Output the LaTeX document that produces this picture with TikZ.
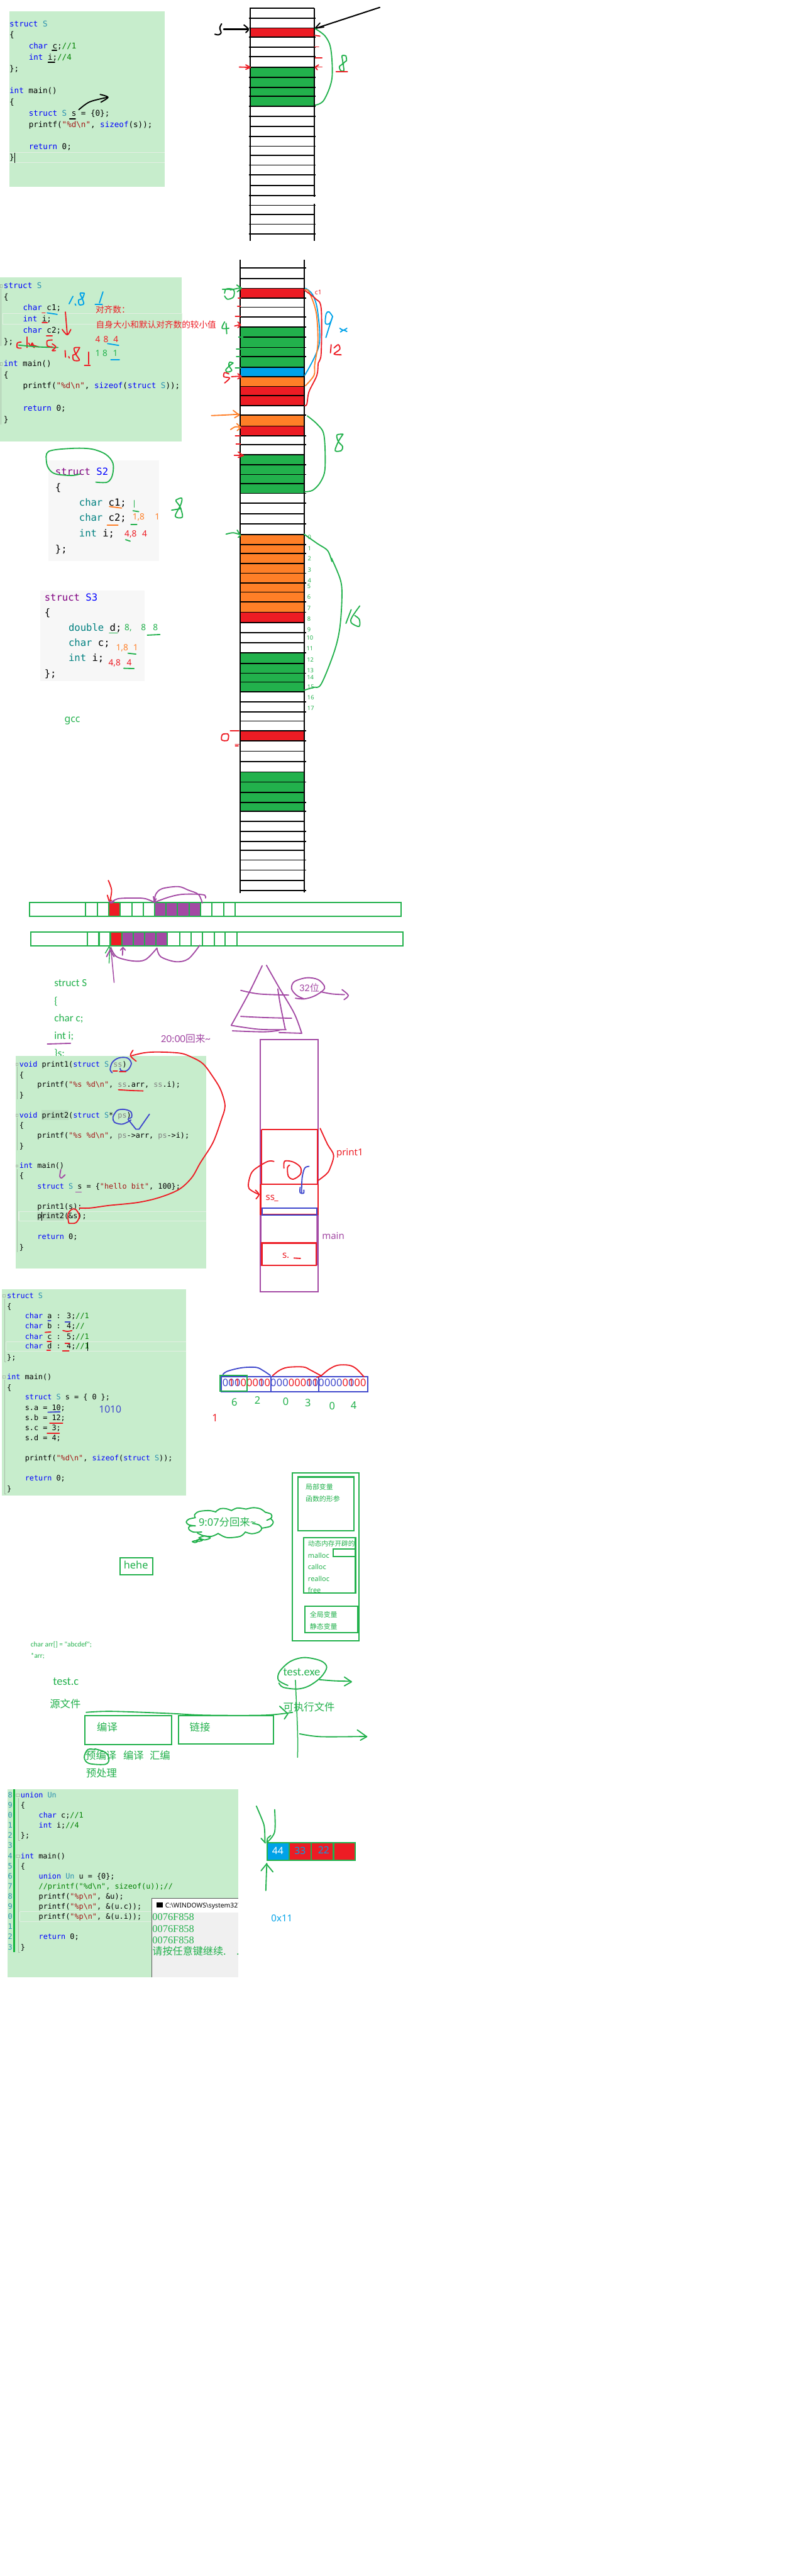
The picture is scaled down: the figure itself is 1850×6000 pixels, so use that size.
\documentclass[tikz,border=0pt]{standalone}
\usepackage{fontspec}
\setmainfont{Noto Sans}
\newfontfamily\mono{DejaVu Sans Mono}
\newfontfamily\carl{Carlito}
\newfontfamily\cjk{Noto Sans CJK SC}
\newfontfamily\serf{Liberation Serif}
\definecolor{mred}{HTML}{ED1C24}
\definecolor{mgreen}{HTML}{22B14C}
\definecolor{mblue}{HTML}{00A2E8}
\definecolor{morange}{HTML}{FF7F27}
\definecolor{mpurple}{HTML}{A349A4}
\definecolor{mindigo}{HTML}{3F48CC}
\definecolor{panelbg}{HTML}{C7EDCC}
\definecolor{ckwc}{HTML}{0000FF}
\definecolor{ctyc}{HTML}{2B91AF}
\definecolor{cstrc}{HTML}{A31515}
\definecolor{cccc}{HTML}{008000}
\definecolor{cpac}{HTML}{808080}
\definecolor{cpur}{HTML}{800080}
\definecolor{cteal}{HTML}{008080}
\definecolor{hl}{HTML}{E3EFE3}
\definecolor{gutter}{HTML}{A9BDA9}
\definecolor{gbar}{HTML}{11B63C}
\definecolor{consbg}{HTML}{F0F0F0}
\newcommand{\ckw}[1]{\textcolor{ckwc}{#1}}
\newcommand{\cty}[1]{\textcolor{ctyc}{#1}}
\newcommand{\cstr}[1]{\textcolor{cstrc}{#1}}
\newcommand{\ccm}[1]{\textcolor{cccc}{#1}}
\newcommand{\cpa}[1]{\textcolor{cpac}{#1}}
\newcommand{\cpu}[1]{\textcolor{cpur}{#1}}
\newcommand{\cte}[1]{\textcolor{cteal}{#1}}
\newcount\txtc
\newcommand{\lbl}[4][]{\global\advance\txtc by 1 \node[lab,#1] (t\the\txtc) at (#2,#3) {#4};}
\newcommand{\ink}[2][]{\draw[inkk,#1] plot[smooth,tension=.55] coordinates {#2};}
\newcommand{\bitb}[1]{\lbl[mindigo,font=\fontsize{12}{14}\selectfont,anchor=center]{#1}{165}{0}}
\newcommand{\bitr}[1]{\lbl[mred,font=\fontsize{12}{14}\selectfont,anchor=center]{#1}{165}{0}}
\newcommand{\bito}[1]{\lbl[mindigo,font=\fontsize{12}{14}\selectfont,anchor=center]{#1}{165}{0}\lbl[mred,font=\fontsize{12}{14}\selectfont,anchor=center]{#1}{165}{1}}
\tikzset{
  lab/.style={inner sep=0pt,anchor=west,text height=7pt,text depth=1pt},
  inkk/.style={line width=1.35pt,line cap=round,line join=round},
  cA/.style={font=\mono\fontsize{9.2}{11}\selectfont},
  cS/.style={font=\mono\fontsize{11.4}{13}\selectfont},
  cB/.style={font=\mono\fontsize{8.65}{10}\selectfont},
  hw/.style={font=\carl\fontsize{12.5}{14}\selectfont,mgreen},
  cj/.style={font=\cjk\fontsize{12}{14}\selectfont,mgreen},
  sm/.style={font=\fontsize{10}{12}\selectfont},
  zA/.style={shift={(0,0)},xscale=.60606,yscale=.38265},
  zB/.style={shift={(0,620)},xscale=.33333,yscale=.70153},
  zC/.style={shift={(480,600)},xscale=.33333,yscale=.63776},
  zD/.style={shift={(480,1300)},xscale=.33333,yscale=.51020},
  zE/.style={shift={(40,2040)},xscale=.58673,yscale=.33333},
  zF/.style={shift={(20,2440)},xscale=.33333,yscale=.34439},
  zG/.style={shift={(500,2380)},xscale=.33333,yscale=.40816},
  zH/.style={shift={(0,3000)},xscale=.33333,yscale=.33333},
  zI/.style={shift={(480,3150)},xscale=.33333,yscale=.44643},
  zJ/.style={shift={(40,3780)},xscale=.54847,yscale=.33333},
  zK/.style={shift={(0,4150)},xscale=.38265,yscale=.33333},
  zL/.style={shift={(560,4150)},xscale=.33333,yscale=.33333},
  zM/.style={shift={(260,3480)},xscale=.33333,yscale=.33333},
}
\begin{document}
\begin{tikzpicture}[x=.5pt,y=-.5pt]
\useasboundingbox (0,0) rectangle (1850,6000);
\fill[white] (0,0) rectangle (1850,6000);

% ===== top panel =====
\begin{scope}[zA]
\fill[panelbg] (36,68) rectangle (634,1136);
\draw[hl,line width=.8pt] (36,929) -- (634,929) (36,991) -- (634,991);
\draw[black,line width=.4pt] (56,930) -- (56,990);
\lbl[cA]{36}{146}{\ckw{struct} \cty{S}}
\lbl[cA]{36}{214}{\{}
\lbl[cA]{110}{282}{\ckw{char} c;\ccm{//1}}
\lbl[cA]{110}{350}{\ckw{int} i;\ccm{//4}}
\lbl[cA]{36}{418}{\};}
\lbl[cA]{36}{554}{\ckw{int} main()}
\lbl[cA]{36}{622}{\{}
\lbl[cA]{110}{690}{\ckw{struct} \cty{S} s = \{0\};}
\lbl[cA]{110}{758}{printf(\cstr{"\%d\textbackslash n"}, \ckw{sizeof}(s));}
\lbl[cA]{110}{892}{\ckw{return} 0;}
\lbl[cA]{36}{960}{\}}
\ink[black]{(200,305) (218,305)}
\ink[black]{(185,378) (210,378)}
\ink[black]{(268,722) (290,722)}
\ink[black]{(303,668) (345,620) (415,592)}
\ink[black]{(385,575) (415,592) (388,622)}
% ladder 1
\fill[mred] (962,171) rectangle (1208,226);
\fill[mgreen] (962,411) rectangle (1208,647);
\foreach \yy in {110,170,226,286,346,411,471,531,587,647,707,830,890,1005,1065,1190,1250,1365,1425}
  {\draw[black,line width=1.3pt] (958,\yy) -- (1214,\yy);}
\foreach \yy in {770,945,1130,1305}
  {\draw[black,line width=1.3pt] (962,\yy) -- (1208,\yy);}
\draw[black,line width=1.5pt] (960,50) -- (1208,50);
\draw[black,line width=1.3pt] (962,50) -- (962,1468);
\draw[black,line width=1.3pt] (1208,50) -- (1208,1200) (1208,1240) -- (1208,1468);
\ink[black,line width=1.5pt]{(852,145) (845,170) (850,200) (840,212) (826,208)}
\ink[black,line width=1.5pt]{(860,178) (955,178)}
\ink[black,line width=1.5pt]{(938,152) (955,178) (945,198)}
\ink[black,line width=1.5pt]{(1460,45) (1215,172)}
\draw[inkk,black] (1230,140) -- (1212,172) -- (1245,165);
\ink[mgreen]{(1212,175) (1250,220) (1272,300) (1276,480) (1245,610) (1212,640)}
\ink[mgreen]{(1330,340) (1315,340) (1318,385) (1305,405) (1310,430) (1322,430) (1320,385) (1332,370) (1330,340)}
\ink[mred]{(1292,438) (1336,438)}
\ink[mred]{(1210,215) (1230,220)}
\ink[mred]{(1210,285) (1225,285)}
\ink[mred]{(1212,353) (1238,353)}
\ink[mred]{(1238,408) (1212,408)}
\draw[inkk,mred] (1225,395) -- (1212,408) -- (1220,425);
\ink[mred]{(920,408) (962,410)}
\draw[inkk,mred] (945,395) -- (962,410) -- (945,422);
\end{scope}

% ===== second panel =====
\begin{scope}[zB]
\fill[panelbg] (0,37) rectangle (1272,582);
\draw[hl,line width=.8pt] (20,158) rectangle (1272,193);
\draw[gutter,line width=.5pt] (6,75) -- (6,265) (6,335) -- (6,525);
\foreach \yy in {65,325}{\draw[gutter,line width=.4pt] (0,\yy-5) rectangle (15,\yy+5);}
\lbl[cA]{25}{64}{\ckw{struct} \cty{S}}
\lbl[cA]{25}{102}{\{}
\lbl[cA]{160}{139}{\ckw{char} c1;}
\lbl[cA]{160}{176}{\ckw{int} i;}
\lbl[cA]{160}{213}{\ckw{char} c2;}
\lbl[cA]{25}{250}{\};}
\lbl[cA]{25}{324}{\ckw{int} main()}
\lbl[cA]{25}{362}{\{}
\lbl[cA]{160}{398}{printf(\cstr{"\%d\textbackslash n"}, \ckw{sizeof}(\ckw{struct} \cty{S}));}
\lbl[cA]{160}{472}{\ckw{return} 0;}
\lbl[cA]{25}{510}{\}}
\lbl[mred,font=\cjk\fontsize{10}{12}\selectfont]{667}{147}{对齐数：}
\lbl[mred,font=\cjk\fontsize{10}{12}\selectfont]{670}{197}{自身大小和默认对齐数的较小值}
\lbl[mred,sm]{665}{245}{4}\lbl[mred,sm]{722}{245}{8}\lbl[mred,sm]{792}{245}{4}
\lbl[mgreen,sm]{665}{290}{1}\lbl[mgreen,sm]{716}{290}{8}\lbl[mgreen,sm]{788}{290}{1}
\ink[mblue]{(483,125) (510,100)}
\ink[mblue]{(525,125) (530,130)}
\ink[mblue]{(590,90) (560,90) (575,108) (585,125) (555,128) (550,112) (575,108) (590,90)}
\ink[mblue]{(720,85) (695,122)}
\ink[mblue]{(665,127) (715,127)}
\ink[mred]{(457,152) (470,225)}
\ink[mred]{(435,210) (470,228) (495,210)}
\ink[mblue]{(330,155) (400,160)}
\ink[mred]{(295,155) (315,155)}
\ink[mred]{(295,188) (330,188)}
\ink[mred]{(148,252) (122,255) (120,270) (148,272)}
\ink[mred]{(190,235) (190,270)}
\ink[mred]{(200,255) (215,265) (225,255) (240,270) (225,262) (270,268)}
\ink[mgreen]{(130,262) (270,268) (405,270)}
\ink[mred]{(325,232) (365,232)}
\ink[mred]{(365,245) (330,248) (332,265) (365,268)}
\ink[mred]{(365,258) (390,268) (365,280) (388,280)}
\ink[mred]{(455,280) (458,302)}
\ink[mred]{(480,300) (485,305)}
\ink[mred]{(557,270) (518,272) (530,292) (555,312) (515,312) (510,295) (530,292) (557,270)}
\ink[mred]{(620,285) (620,325)}
\ink[mred]{(590,330) (630,330)}
\ink[mblue]{(752,257) (830,263)}
\ink[mblue]{(775,310) (835,310)}
% S2
\fill[black!3] (340,645) rectangle (1110,978);
\lbl[cS]{385}{685}{\cpu{struct} \ckw{S2}}
\lbl[cS]{385}{738}{\{}
\lbl[cS]{552}{788}{\cte{char} c1;}
\lbl[cS]{552}{838}{\cte{char} c2;}
\lbl[cS]{552}{890}{\cte{int} i;}
\lbl[cS]{385}{942}{\};}
\lbl[morange,sm]{925}{833}{1,8}\lbl[morange,sm]{1082}{833}{1}
\lbl[mred,sm]{870}{890}{4,8}\lbl[mred,sm]{993}{890}{4}
\ink[mgreen]{(670,717) (750,717) (785,695) (790,655) (740,625) (640,607) (500,605) (340,615) (325,650) (345,675) (390,690) (500,695) (560,690)}
\ink[morange]{(765,798) (850,803)}
\ink[mgreen]{(938,778) (938,800)}
\ink[mgreen]{(930,812) (970,815)}
\ink[morange]{(750,860) (825,860)}
\ink[mgreen]{(915,857) (957,857)}
\ink[mgreen]{(878,908) (910,913)}
\ink[mgreen]{(1235,775) (1270,770) (1265,790) (1225,830) (1275,833) (1260,800) (1230,780) (1235,775)}
\ink[mgreen]{(1200,810) (1265,805)}
% S3
\fill[black!3] (282,1077) rectangle (1010,1378);
\lbl[cS]{310}{1102}{\cpu{struct} \ckw{S3}}
\lbl[cS]{310}{1152}{\{}
\lbl[cS]{478}{1203}{\cte{double} d;}
\lbl[cS]{478}{1253}{\cte{char} c;}
\lbl[cS]{478}{1303}{\cte{int} i;}
\lbl[cS]{310}{1355}{\};}
\lbl[mgreen,sm]{870}{1200}{8,}\lbl[mgreen,sm]{985}{1200}{8}\lbl[mgreen,sm]{1068}{1200}{8}
\lbl[morange,sm]{810}{1268}{1,8}\lbl[morange,sm]{930}{1268}{1}
\lbl[mred,sm]{757}{1318}{4,8}\lbl[mred,sm]{885}{1318}{4}
\ink[mgreen]{(1030,1225) (1118,1223)}
\ink[mgreen]{(765,1218) (820,1218)}
\ink[mgreen]{(895,1285) (950,1288)}
\ink[mgreen]{(865,1335) (937,1336)}
\lbl[mgreen,font=\fontsize{11.5}{13}\selectfont]{450}{1505}{gcc}
\end{scope}

% ===== ladder 2 =====
\fill[mred] (560,671.4) rectangle (709,694.4);
\fill[mgreen] (560,761.4) rectangle (709,855.1);
\fill[mblue] (560,855.1) rectangle (709,877.4);
\fill[morange] (560,877.4) rectangle (709,900.4);
\fill[mred] (560,900.4) rectangle (709,944.4);
\fill[morange] (560,967.3) rectangle (709,992.2);
\fill[mred] (560,992.2) rectangle (709,1015.2);
\fill[mgreen] (560,1059.2) rectangle (709,1149.1);
\fill[morange] (560,1244.8) rectangle (709,1425);
\fill[mred] (560,1425) rectangle (709,1450.5);
\fill[mgreen] (560,1520) rectangle (709,1611.7);
\fill[mred] (560,1702.6) rectangle (709,1725);
\fill[mgreen] (560,1798) rectangle (709,1889.3);
\foreach \yy in {624.2,694.4,738.4,761.4,785.6,809.2,830.2,944.4,967.3,1015.2,1035.6,1082.1,1105.1,1149.1,1172.1,1219.9,1268.4,1288.8,1335.3,1358.3,1402.3,1425.9,1473.1,1520.3,1568.1,1635.2,1658.7,1702.6,1725,1773.5,1821.4,1868.9,1889.3,1936.2,1959.7,2003,2026.5,2074.5}
  {\draw[black,line width=1.3pt] (558,\yy) -- (714,\yy);}
\foreach \yy in {648.5,671.4,715.4,855.1,877.4,900.4,921.4,992.2,1059.2,1126.1,1196.9,1244.8,1312.4,1379.3,1450.1,1497.3,1545.2,1588.5,1611.7,1679.6,1750,1798,1845.9,1912.8,1980,2051}
  {\draw[black,line width=1.2pt] (560,\yy) -- (709,\yy);}
\draw[black,line width=1.5pt] (560,605) -- (560,2080);
\draw[black,line width=1.5pt] (709,605) -- (709,2078);
\foreach \nn/\yy/\xx in {0/1250/721,1/1276/721,2/1300/721,3/1326/721,4/1351/721,5/1364/720,6/1389.5/720,7/1415/720,8/1440/720,9/1465/720,10/1484.5/722,11/1510/722,12/1535/723,13/1560/723,14/1577/723,15/1598.5/724,16/1623/724,17/1648/724}
  {\lbl[mgreen,font=\fontsize{6.8}{8}\selectfont,anchor=center]{\xx}{\yy}{\nn}}

\begin{scope}[zC]
\ink[mgreen]{(115,115) (170,115)}
\ink[mgreen]{(130,130) (140,115) (185,115) (198,125) (190,145) (150,152) (130,140)}
\ink[mgreen]{(170,118) (245,110)}
\draw[inkk,mgreen] (215,100) -- (248,112) -- (218,125);
\ink[mred]{(225,148) (243,148)}
\ink[mred]{(220,178) (240,178)}
\ink[mred]{(205,214) (240,214)}
\ink[mred]{(200,250) (240,245)}
\draw[inkk,mred] (222,235) -- (242,246) -- (222,256);
\ink[mgreen]{(130,235) (112,258) (160,258)}
\ink[mgreen]{(140,240) (145,278)}
\ink[mgreen]{(228,291) (258,291)}
\ink[mgreen]{(213,333) (243,333)}
\ink[mgreen]{(213,362) (243,362)}
\ink[mgreen]{(205,402) (243,402)}
\ink[mgreen]{(190,385) (165,382) (160,395) (180,412) (150,418) (138,410) (165,395) (190,385)}
\ink[mred]{(160,425) (130,420) (125,435) (165,440) (130,458)}
\ink[mred]{(178,435) (245,433)}
\draw[inkk,mred] (222,424) -- (247,434) -- (222,443);
\ink[morange]{(38,577) (130,575) (230,572)}
\draw[inkk,morange] (190,558) -- (232,575) -- (200,585);
\ink[morange]{(172,628) (205,618) (240,620)}
\draw[inkk,morange] (215,606) -- (242,620) -- (218,632);
\ink[mred]{(205,650) (240,650)}
\ink[mred]{(210,680) (240,680)}
\ink[mred]{(197,722) (262,722)}
\draw[inkk,mred] (225,710) -- (260,723) -- (225,730);
\ink[mgreen]{(140,1010) (190,1005) (240,1012)}
\draw[inkk,mgreen] (218,995) -- (240,1015) -- (225,1022);
\ink[mblue]{(695,112) (745,135) (780,195) (790,320) (690,430)}
\ink[morange]{(690,118) (720,125) (770,200) (782,310) (760,390) (755,430) (695,468)}
\ink[mred]{(690,120) (765,150) (805,185) (805,350) (785,385) (775,430) (720,490) (705,535) (690,540)}
\lbl[mred,font=\fontsize{7.5}{9}\selectfont]{760}{127}{c1}
\ink[mblue]{(885,215) (860,198) (840,205) (835,240) (865,240) (885,215) (860,255) (838,292)}
\ink[mblue]{(935,258) (960,265) (985,258)}
\ink[mblue]{(940,272) (960,265) (985,270)}
\ink[mred]{(875,318) (870,348)}
\ink[mred]{(895,330) (925,318) (935,335) (895,352) (945,355)}
\ink[mgreen]{(708,578) (780,610) (825,650) (832,770) (800,820) (745,850) (690,855)}
\ink[mgreen]{(958,645) (915,648) (925,672) (955,690) (945,705) (903,705) (925,672) (958,645)}
\ink[mgreen]{(685,1010) (780,1045) (850,1070) (880,1110)}
\end{scope}
\begin{scope}[zD]
\ink[mgreen]{(877,0) (940,100) (950,180) (935,320) (895,430) (805,575) (750,590) (685,603)}
\ink[mgreen]{(978,298) (1015,235)}
\ink[mgreen]{(1075,218) (1020,270) (1015,295) (1070,312) (1072,280) (1040,262)}
\ink[mred]{(150,802) (115,805) (110,830) (150,832) (158,810) (150,802)}
\ink[mred]{(170,787) (230,787)}
\ink[mred]{(205,850) (230,850)}
\ink[mred]{(205,858) (225,858)}
\end{scope}

% ===== memory strips + sketches =====
\begin{scope}[zE]
\fill[mred] (363,184) rectangle (408,284);
\fill[mpurple] (545,184) rectangle (728,284);
\draw[mgreen,line width=1.5pt] (48,184) rectangle (1525,284);
\foreach \xx in {272,318,363,408,455,500,545,590,637,683,728,773,820,865}
  {\draw[mgreen,line width=1.5pt] (\xx,184) -- (\xx,284);}
\fill[mred] (370,392) rectangle (415,490);
\fill[mpurple] (415,392) rectangle (597,490);
\draw[mgreen,line width=1.5pt] (55,392) rectangle (1532,490);
\foreach \xx in {278,325,370,415,460,507,552,597,645,690,736,782,826,872}
  {\draw[mgreen,line width=1.5pt] (\xx,392) -- (\xx,490);}
\ink[mred]{(362,32) (375,100) (368,180)}
\draw[inkk,mred] (358,135) -- (366,180) -- (375,170);
\ink[mpurple]{(370,190) (400,160) (470,155) (510,160) (545,185)}
\draw[inkk,mpurple] (365,175) -- (375,190) -- (385,178);
\draw[inkk,mpurple] (541,145) -- (545,185) -- (552,160);
\ink[mpurple]{(545,185) (600,150) (650,130) (710,128) (745,135) (748,155)}
\ink[mpurple]{(545,185) (550,130) (575,90) (640,75) (680,100) (720,130) (735,190)}
\ink[mgreen,line width=1pt]{(365,610) (368,500)}
\draw[inkk,mgreen,line width=1pt] (350,540) -- (365,495) -- (390,560);
\ink[mpurple,line width=1.1pt]{(385,745) (372,500)}
\draw[inkk,mpurple] (355,565) -- (368,520) -- (385,565);
\ink[mpurple]{(418,555) (420,500)}
\draw[inkk,mpurple] (410,520) -- (420,500) -- (430,520);
\ink[mpurple]{(372,500) (395,565) (460,595) (510,585) (555,505)}
\ink[mpurple]{(555,505) (570,565) (630,600) (680,580) (725,485)}
% sail sketch
\ink[mpurple]{(973,628) (920,820) (850,1045)}
\ink[mpurple]{(990,625) (1040,780) (1100,960) (1130,1100)}
\draw[inkk,mpurple] (1040,1095) -- (1130,1100);
\ink[mpurple]{(1035,790) (1045,900) (1065,1075)}
\ink[mpurple]{(850,1045) (960,1072) (1068,1075)}
\ink[mpurple]{(855,1083) (980,1090) (1040,1080)}
\ink[mpurple]{(888,800) (960,825) (1078,833)}
\ink[mpurple]{(888,982) (980,990) (1090,995)}
\lbl[mpurple,font=\carl\fontsize{12}{14}\selectfont]{1120}{790}{32{\cjk\fontsize{11}{13}\selectfont 位}}
\ink[mpurple]{(1105,855) (1140,860) (1180,840) (1215,800) (1220,770) (1195,725) (1150,712) (1100,740) (1090,790) (1110,835) (1140,860)}
\ink[mpurple]{(1205,810) (1250,825) (1300,830)}
\ink[mpurple]{(1290,795) (1315,835) (1298,865)}
% handwritten struct
\lbl[hw]{147}{755}{struct S}
\lbl[hw]{147}{880}{\{}
\lbl[hw]{147}{1000}{char c;}
\lbl[hw]{147}{1125}{int i;}
\lbl[hw]{147}{1245}{\}s;}
\ink[mpurple]{(120,1175) (212,1170)}
\lbl[mpurple,font=\carl\fontsize{12.5}{14}\selectfont]{570}{1145}{20:00{\cjk\fontsize{11.5}{13}\selectfont 回来}\textasciitilde}
\end{scope}

% ===== print panel =====
\begin{scope}[zF]
\fill[panelbg] (51,55) rectangle (1383,1495);
\fill[black!6!panelbg] (232,422) rectangle (420,490);
\fill[black!6!panelbg] (200,1110) rectangle (390,1170);
\draw[hl,line width=.8pt] (72,1108) -- (1383,1108) (72,1172) -- (1383,1172) (72,1108) -- (72,1172);
\draw[gutter,line width=.5pt] (60,130) -- (60,350) (60,475) -- (60,695) (60,820) -- (60,1385);
\foreach \yy in {112,456,800}{\draw[gutter,line width=.4pt] (52,\yy-8) rectangle (66,\yy+8);}
\lbl[cB]{75}{112}{\ckw{void} print1(\ckw{struct} \cty{S} \cpa{ss})}
\lbl[cB]{75}{185}{\{}
\lbl[cB]{200}{250}{printf(\cstr{"\%s \%d\textbackslash n"}, \cpa{ss}.arr, \cpa{ss}.i);}
\lbl[cB]{75}{320}{\}}
\lbl[cB]{75}{456}{\ckw{void} print2(\ckw{struct} \cty{S}* \cpa{ps})}
\lbl[cB]{75}{525}{\{}
\lbl[cB]{200}{593}{printf(\cstr{"\%s \%d\textbackslash n"}, \cpa{ps}->arr, \cpa{ps}->i);}
\lbl[cB]{75}{665}{\}}
\lbl[cB]{75}{800}{\ckw{int} main()}
\lbl[cB]{75}{868}{\{}
\lbl[cB]{200}{937}{\ckw{struct} \cty{S} s = \{\cstr{"hello bit"}, 100\};}
\lbl[cB]{200}{1073}{print1(s);}
\lbl[cB]{200}{1140}{print2(\&s);}
\lbl[cB]{200}{1278}{\ckw{return} 0;}
\lbl[cB]{75}{1350}{\}}
\draw[black,line width=.4pt] (232,1112) -- (232,1170);
\ink[mred]{(495,1085) (570,1085) (700,1068) (900,1048) (1050,1015) (1190,960) (1280,880) (1340,780) (1430,640) (1490,480) (1510,420) (1510,370) (1480,280) (1430,200) (1360,110) (1280,65) (1200,38) (1050,30) (950,35) (860,55)}
\ink[mred]{(870,18) (852,55) (892,92)}
\ink[mindigo]{(725,170) (710,150) (725,100) (770,70) (830,70) (858,105) (840,145) (815,160) (785,155) (780,140)}
\ink[mred]{(730,158) (760,158)}
\ink[mred]{(775,163) (820,163)}
\ink[mred]{(768,285) (850,290) (940,293)}
\ink[mindigo]{(838,480) (860,470) (855,435) (810,418) (760,425) (730,470) (740,505) (790,518) (830,505) (855,490)}
\draw[inkk,mindigo] (835,485) -- (890,552) -- (912,552) -- (985,450);
\ink[mpurple]{(365,825) (358,870) (370,882) (395,860)}
\ink[mpurple]{(470,977) (508,977)}
\ink[mred]{(420,1185) (415,1130) (440,1095) (470,1095) (495,1140) (470,1185) (420,1188)}
\end{scope}

% ===== stack box =====
\begin{scope}[zG]
\fill[mpurple] (318,1100) rectangle (328,1390) (712,1100) rectangle (722,1390);
\draw[mpurple,line width=1.5pt] (318,100) rectangle (722,1542);
\draw[mred,line width=1.5pt] (328,613) -- (720,613) -- (720,928);
\draw[mred,line width=2pt] (328,613) -- (328,928);
\draw[mred,line width=1.5pt] (322,928) -- (724,928);
\draw[mred,line width=1.7pt] (322,928) -- (322,1100) -- (724,1100) -- (724,928);
\draw[mindigo,line width=1.5pt] (333,1062) rectangle (716,1102);
\draw[mred,line width=2pt] (330,1262) rectangle (710,1390);
\lbl[mred,font=\fontsize{11}{13}\selectfont]{356}{1005}{ss}
\ink[mred]{(420,1022) (442,1022)}
\lbl[mred,font=\fontsize{11}{13}\selectfont]{472}{1332}{s.}
\ink[mred]{(555,1348) (600,1350)}
\lbl[mred,font=\fontsize{11}{13}\selectfont]{850}{750}{print1}
\lbl[mpurple,font=\fontsize{11}{13}\selectfont]{750}{1225}{main}
\ink[mred]{(738,608) (790,700) (832,762) (805,840) (780,870) (725,905)}
\ink[mred]{(415,797) (370,797) (275,845) (245,890) (240,950) (310,985)}
\ink[mred]{(285,960) (310,985) (290,1010)}
\ink[mred]{(485,835) (490,795) (550,800) (600,830) (600,870) (550,898) (515,880) (510,830) (525,818)}
\ink[mindigo]{(660,825) (630,835) (612,890) (608,975)}
\ink[mindigo]{(598,945) (598,975) (622,978) (624,960)}
\end{scope}

% ===== bitfield panel =====
\begin{scope}[zH]
\fill[panelbg] (15,10) rectangle (1302,1452);
\draw[hl,line width=.8pt] (42,377) -- (1302,377) (42,440) -- (1302,440) (42,377) -- (42,440);
\draw[gutter,line width=.5pt] (32,75) -- (32,515) -- (42,515) (32,640) -- (32,1440) -- (42,1440);
\foreach \yy in {55,622}{\draw[gutter,line width=.4pt] (18,\yy-8) rectangle (38,\yy+8);}
\lbl[cB]{48}{55}{\ckw{struct} \cty{S}}
\lbl[cB]{48}{127}{\{}
\lbl[cB]{174}{197}{\ckw{char} a : 3;\ccm{//1}}
\lbl[cB]{174}{266}{\ckw{char} b : 4;\ccm{//}}
\lbl[cB]{174}{338}{\ckw{char} c : 5;\ccm{//1}}
\lbl[cB]{174}{408}{\ckw{char} d : 4;\ccm{//1}}
\lbl[cB]{48}{483}{\};}
\lbl[cB]{48}{622}{\ckw{int} main()}
\lbl[cB]{48}{695}{\{}
\lbl[cB]{174}{764}{\ckw{struct} \cty{S} s = \{ 0 \};}
\lbl[cB]{174}{835}{s.a = 10;}
\lbl[cB]{174}{905}{s.b = 12;}
\lbl[cB]{174}{977}{s.c = 3;}
\lbl[cB]{174}{1047}{s.d = 4;}
\lbl[cB]{174}{1187}{printf(\cstr{"\%d\textbackslash n"}, \ckw{sizeof}(\ckw{struct} \cty{S}));}
\lbl[cB]{174}{1330}{\ckw{return} 0;}
\lbl[cB]{48}{1403}{\}}
\draw[black,line width=.4pt] (614,378) -- (614,438);
\lbl[mindigo,font=\fontsize{11.5}{13}\selectfont]{690}{855}{1010}
\ink[mindigo]{(335,230) (355,230)}
\ink[mindigo]{(455,238) (490,238)}
\ink[mred]{(315,310) (355,307)}
\ink[mred]{(440,297) (470,303) (502,298)}
\ink[mred]{(330,373) (358,373)}
\ink[mred]{(455,385) (485,385)}
\ink[mred]{(328,436) (352,436)}
\ink[mred]{(438,438) (482,438)}
\ink[mindigo]{(335,868) (420,865)}
\ink[mred]{(348,945) (438,945)}
\ink[mred]{(330,1015) (415,1015)}
\end{scope}

% ===== bits row + memory regions =====
\begin{scope}[zI]
\foreach \k [count=\ci from 0] in {b,o,o,r,r,r,o,r,b,b,b,r,r,r,o,o,b,b,b,b,r,o,r,r}{
  \pgfmathsetmacro{\xx}{136+41.9*\ci}
  \csname bit\k\endcsname{\xx}
}
\draw[mindigo,line width=1.5pt] (105,127) rectangle (1130,205);
\draw[mindigo,line width=1.5pt] (455,127) -- (455,205) (790,127) -- (790,205);
\draw[mgreen,line width=1.5pt] (100,120) rectangle (285,203);
\ink[mindigo]{(118,115) (150,98) (250,80) (350,78) (400,95) (450,120)}
\ink[mred]{(465,122) (510,95) (570,78) (680,76) (730,92) (805,122)}
\ink[mred]{(775,130) (805,122)}
\ink[mred]{(805,122) (860,88) (920,67) (1000,67) (1050,85) (1105,128)}
\foreach \dd/\xx/\yy in {6/198/265,2/360/255,0/558/262,3/713/268,0/882/285,4/1032/283}
  {\lbl[mgreen,font=\fontsize{12}{14}\selectfont,anchor=center]{\xx}{\yy}{\dd}}
\lbl[mred,font=\fontsize{12}{14}\selectfont,anchor=center]{63}{347}{1}
% memory regions
\draw[mgreen,line width=1.5pt] (603,630) rectangle (1068,1506);
\draw[mgreen,line width=1.5pt] (645,650) rectangle (1035,930);
\lbl[mgreen,font=\cjk\fontsize{8}{10}\selectfont]{695}{702}{局部变量}
\lbl[mgreen,font=\cjk\fontsize{8}{10}\selectfont]{695}{763}{函数的形参}
\lbl[mgreen,font=\cjk\fontsize{7.8}{10}\selectfont]{712}{998}{动态内存开辟的}
\lbl[mgreen,font=\fontsize{8}{10}\selectfont]{712}{1060}{malloc}
\lbl[mgreen,font=\fontsize{8}{10}\selectfont]{712}{1120}{calloc}
\lbl[mgreen,font=\fontsize{8}{10}\selectfont]{712}{1180}{realloc}
\lbl[mgreen,font=\fontsize{8}{10}\selectfont]{712}{1240}{free}
\draw[mgreen,line width=1.5pt] (682,968) rectangle (1045,1255);
\draw[mgreen,line width=1.5pt] (890,1025) rectangle (1042,1065);
\draw[mgreen,line width=1.5pt] (690,1323) rectangle (1060,1463);
\lbl[mgreen,font=\cjk\fontsize{8}{10}\selectfont]{725}{1368}{全局变量}
\lbl[mgreen,font=\cjk\fontsize{8}{10}\selectfont]{725}{1430}{静态变量}
\end{scope}

% ===== cloud + hehe =====
\begin{scope}[zM]
\ink[mgreen]{(585,165) (580,145) (610,122) (680,115) (730,125)}
\ink[mgreen]{(725,125) (760,102) (800,102) (838,115)}
\ink[mgreen]{(838,115) (880,97) (940,105)}
\ink[mgreen]{(940,105) (990,95) (1040,103) (1075,127)}
\ink[mgreen]{(1075,127) (1115,140) (1118,165) (1085,183)}
\ink[mgreen]{(1110,170) (1130,195) (1110,225) (1050,238)}
\ink[mgreen]{(985,205) (1030,215) (1050,240) (1030,265) (980,277) (935,265)}
\ink[mgreen]{(935,265) (900,295) (820,305) (780,295) (745,275)}
\ink[mgreen]{(745,275) (700,295) (640,290) (600,272)}
\ink[mgreen]{(630,265) (570,265) (540,245) (545,225) (585,222)}
\ink[mgreen]{(585,222) (540,215) (522,195) (540,175) (585,165)}
\ink[mgreen]{(610,306) (650,293) (690,306) (650,320) (610,306)}
\ink[mgreen]{(590,325) (612,316) (636,322) (612,330) (590,325)}
\ink[mgreen]{(564,332) (582,326) (600,332) (582,339) (564,332)}
\lbl[mgreen,font=\fontsize{12}{14}\selectfont]{608}{205}{9:07{\cjk 分回来}\textasciitilde}
\draw[mgreen,line width=1.5pt] (60,447) rectangle (288,565);
\lbl[mgreen,font=\fontsize{12}{14}\selectfont,anchor=center]{170}{503}{hehe}
\end{scope}

% ===== compile =====
\begin{scope}[zJ]
\lbl[mgreen,font=\carl\fontsize{8.3}{10}\selectfont]{57}{148}{char arr[] = "abcdef";}
\lbl[mgreen,font=\carl\fontsize{8.3}{10}\selectfont]{57}{230}{*arr;}
\lbl[hw,font=\carl\fontsize{13.5}{15}\selectfont]{152}{418}{test.c}
\lbl[cj]{138}{575}{源文件}
\draw[mgreen,line width=1.5pt] (288,648) rectangle (655,850);
\draw[mgreen,line width=1.5pt] (686,650) rectangle (1090,845);
\lbl[cj]{338}{740}{编译}
\lbl[cj]{732}{740}{链接}
\lbl[cj]{290}{935}{预编译}
\lbl[cj]{450}{935}{编译}
\lbl[cj]{562}{935}{汇编}
\lbl[cj]{292}{1058}{预处理}
\lbl[hw,font=\carl\fontsize{13.5}{15}\selectfont]{1130}{352}{test.exe}
\lbl[cj]{1130}{598}{可执行文件}
\ink[mgreen]{(1150,437) (1110,400) (1115,340) (1160,270) (1220,242) (1290,265) (1315,310) (1290,380) (1240,440) (1190,462) (1130,450) (1112,420)}
\ink[mgreen]{(1285,397) (1350,405) (1418,408)}
\draw[inkk,mgreen] (1390,378) -- (1420,412) -- (1390,440);
\ink[mgreen,line width=1.1pt]{(1182,400) (1190,700) (1192,850) (1191,940)}
\ink[mgreen]{(1200,775) (1290,795) (1485,793)}
\draw[inkk,mgreen] (1445,748) -- (1485,795) -- (1458,820);
\ink[mgreen]{(293,625) (400,618) (640,632) (800,645) (1050,645) (1170,625)}
\draw[inkk,mgreen] (1115,582) -- (1150,635) -- (1135,672);
\ink[mgreen]{(330,885) (300,885) (285,940) (305,982) (375,988) (390,950) (375,905) (330,880)}
\end{scope}

% ===== union panel =====
\begin{scope}[zK]
\fill[panelbg] (47,54) rectangle (1450,1365);
\fill[gbar] (80,54) rectangle (92,1190);
\draw[hl,line width=.8pt] (122,908) -- (925,908) (122,977) -- (925,977) (122,908) -- (122,977);
\draw[gutter,line width=.5pt] (112,115) -- (112,410) -- (122,410) (112,535) -- (112,1190) -- (122,1190);
\foreach \yy in {93,518}{\draw[gutter,line width=.4pt] (98,\yy-8) rectangle (118,\yy+8);}
\foreach \nn/\yy in {8/93,9/163,0/235,1/304,2/377,3/447,4/518,5/590,6/660,7/730,8/800,9/872,0/943,1/1013,2/1084,3/1155}
  {\lbl[cB,anchor=center]{62}{\yy}{\textcolor{ctyc}{\nn}}}
\lbl[cB]{125}{93}{\ckw{union} \cty{Un}}
\lbl[cB]{125}{163}{\{}
\lbl[cB]{235}{235}{\ckw{char} c;\ccm{//1}}
\lbl[cB]{235}{304}{\ckw{int} i;\ccm{//4}}
\lbl[cB]{125}{377}{\};}
\lbl[cB]{125}{518}{\ckw{int} main()}
\lbl[cB]{125}{590}{\{}
\lbl[cB]{235}{660}{\ckw{union} \cty{Un} u = \{0\};}
\lbl[cB]{235}{730}{\ccm{//printf("\%d\textbackslash n", sizeof(u));//}}
\lbl[cB]{235}{800}{printf(\cstr{"\%p\textbackslash n"}, \&u);}
\lbl[cB]{235}{872}{printf(\cstr{"\%p\textbackslash n"}, \&(u.c));}
\lbl[cB]{235}{943}{printf(\cstr{"\%p\textbackslash n"}, \&(u.i));}
\lbl[cB]{235}{1084}{\ckw{return} 0;}
\lbl[cB]{125}{1155}{\}}
% console
\fill[white] (925,815) rectangle (1450,912);
\fill[consbg] (925,912) rectangle (1450,1365);
\draw[black!65,line width=.5pt] (925,1365) -- (925,815) -- (1450,815);
\fill[black] (952,845) rectangle (992,880);
\begin{scope}
\clip (925,815) rectangle (1450,912);
\lbl[font=\fontsize{7.6}{9}\selectfont]{1005}{862}{C:\textbackslash WINDOWS\textbackslash system32\textbackslash cmd.exe}
\end{scope}
\lbl[mgreen,font=\serf\fontsize{12}{14}\selectfont]{927}{950}{0076F858}
\lbl[mgreen,font=\serf\fontsize{12}{14}\selectfont]{927}{1032}{0076F858}
\lbl[mgreen,font=\serf\fontsize{12}{14}\selectfont]{927}{1113}{0076F858}
\lbl[mgreen,font=\cjk\fontsize{11.8}{14}\selectfont]{927}{1192}{请按任意键继续.\hspace{12pt}.}
\end{scope}

% ===== union bytes =====
\begin{scope}[zL]
\fill[mblue] (190,428) rectangle (338,548);
\fill[mred] (342,428) rectangle (803,548);
\draw[mgreen,line width=1.7pt] (187,425) rectangle (803,550);
\draw[mgreen,line width=1.7pt] (340,425) -- (340,550) (495,425) -- (495,550) (651,425) -- (651,550);
\lbl[white,font=\fontsize{11.5}{13}\selectfont,anchor=center]{262}{490}{44}
\lbl[mblue,font=\fontsize{11.5}{13}\selectfont,anchor=center]{418}{490}{33}
\lbl[mblue,font=\fontsize{11.5}{13}\selectfont,anchor=center]{583}{485}{22}
\lbl[mblue,font=\fontsize{11}{13}\selectfont]{215}{958}{0x11}
\ink[mgreen]{(112,170) (160,285) (170,340) (172,425)}
\draw[inkk,mgreen] (145,395) -- (175,428);
\ink[mgreen]{(240,195) (240,350) (190,420)}
\draw[inkk,mgreen] (213,375) -- (190,395) -- (185,425);
\ink[mgreen]{(178,760) (185,570)}
\draw[inkk,mgreen] (145,622) -- (183,575) -- (228,630);
\end{scope}
\end{tikzpicture}
\end{document}
